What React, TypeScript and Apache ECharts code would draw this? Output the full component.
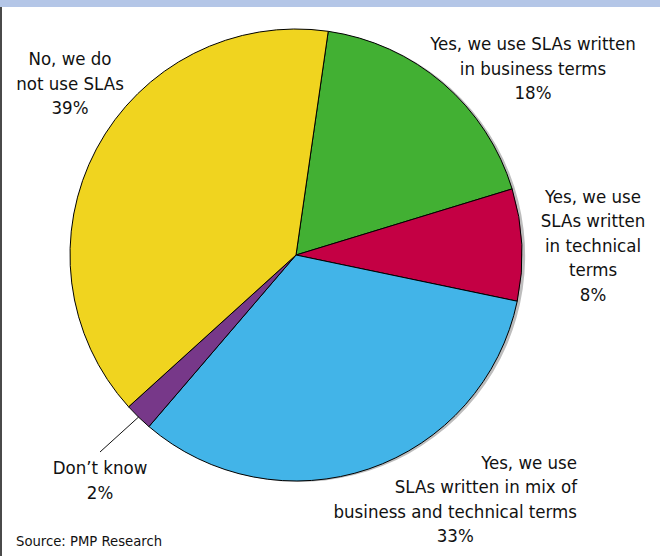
import React, { useEffect, useRef } from "react";
import * as echarts from "echarts";

const categories = [
  "Yes, we use SLAs written\nin business terms",
  "Yes, we use\nSLAs written\nin technical\nterms",
  "Yes, we use\nSLAs written in mix of\nbusiness and technical terms",
  "Don’t know",
  "No, we do\nnot use SLAs",
];
const values = [18, 8, 33, 2, 39];
const colors = ["#42b033", "#c40044", "#42b4e8", "#773889", "#f0d41f"];
const sourceText = "Source: PMP Research";

const FONT = "'DejaVu Sans Condensed', 'Liberation Sans', sans-serif";
const FS = 18.5;
const LH = 24.5;

// label block anchors (layout only)
const labelPos: { x: number; y: number; align: string }[] = [
  { x: 533, y: 68, align: "center" },
  { x: 593, y: 245, align: "center" },
  { x: 577, y: 499, align: "right" },
  { x: 100, y: 480, align: "center" },
  { x: 70, y: 83, align: "center" },
];

export default function App() {
  const ref = useRef<HTMLDivElement>(null);
  useEffect(() => {
    document.body.style.margin = "0";
    if (!ref.current) return;
    const chart = echarts.init(ref.current, null, { renderer: "svg" });
    const data = categories.map((name, i) => {
      const item: any = {
        name,
        value: values[i],
        itemStyle: { color: colors[i] },
      };
      if (i === 3) {
        item.labelLine = { show: true, lineStyle: { color: "#111", width: 1 } };
      }
      return item;
    });
    chart.setOption({
      animation: false,
      graphic: [
        { type: "rect", left: 0, top: 0, shape: { width: 660, height: 7 }, style: { fill: "#b4c6e7" } },
        { type: "rect", left: 0, top: 7, shape: { width: 2, height: 549 }, style: { fill: "#4a4a4a" } },
        {
          type: "text",
          left: 16,
          top: 533,
          style: { text: sourceText, fontFamily: FONT, fontSize: 14.7, fill: "#111" },
        },
      ],
      series: [
        {
          type: "pie",
          silent: true,
          center: [300, 256],
          radius: 226,
          startAngle: 81.8,
          label: { show: false },
          labelLine: { show: false },
          emphasis: { disabled: true },
          data: [{ value: 1, itemStyle: { color: "#bdbdbd" } }],
          z: 1,
        },
        {
          type: "pie",
          silent: true,
          center: [296, 255],
          radius: 226,
          startAngle: 81.8,
          clockwise: true,
          avoidLabelOverlap: false,
          emphasis: { disabled: true },
          itemStyle: { borderColor: "#000", borderWidth: 1 },
          label: {
            show: true,
            position: "outside",
            fontFamily: FONT,
            fontSize: FS,
            lineHeight: LH,
            color: "#111",
            align: "center",
            formatter: (p: any) => {
              if (p.dataIndex === 2) {
                const lines = p.name.split("\n").map((l: string) => `{r|${l}}`);
                return lines.join("\n") + `\n{c|${p.value}%}`;
              }
              return `${p.name}\n${p.value}%`;
            },
            rich: {
              r: { align: "right", fontFamily: FONT, fontSize: FS, lineHeight: LH, color: "#111" },
              c: { align: "center", fontFamily: FONT, fontSize: FS, lineHeight: LH, color: "#111" },
            },
          },
          labelLine: { show: false },
          labelLayout: (params: any) => {
            const lp = labelPos[params.dataIndex];
            const res: any = { x: lp.x, y: lp.y, align: lp.align, verticalAlign: "middle" };
            if (params.dataIndex === 3) {
              res.labelLinePoints = [
                [143, 413],
                [100, 452],
                [100, 452],
              ];
            }
            return res;
          },
          data,
          z: 2,
        },
      ],
    });
    return () => chart.dispose();
  }, []);
  return <div ref={ref} style={{ width: 660, height: 556 }} />;
}
